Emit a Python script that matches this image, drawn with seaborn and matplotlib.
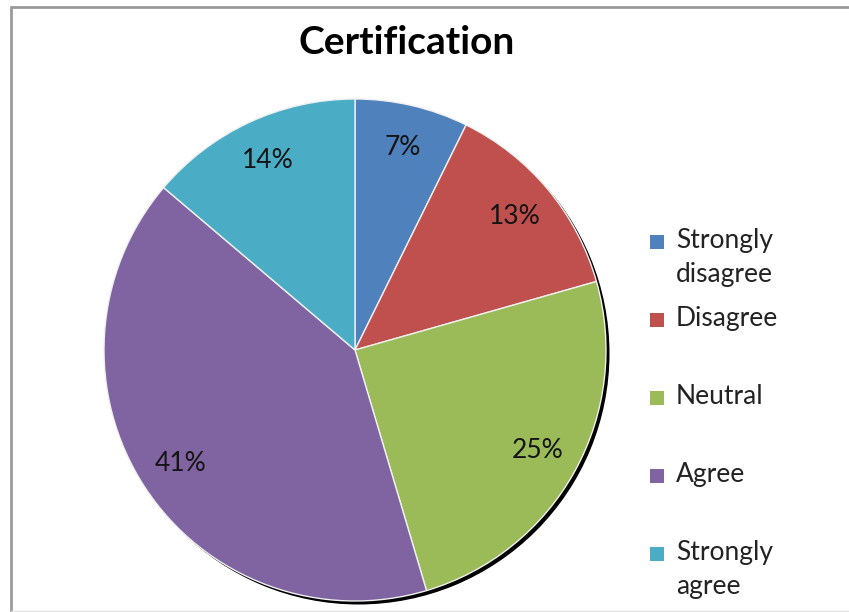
import matplotlib
matplotlib.use("Agg")
import matplotlib.pyplot as plt
import seaborn as sns
from matplotlib.lines import Line2D
from matplotlib.patches import Rectangle

sns.set_theme(style="white")
plt.rcParams['font.family'] = ['Lato', 'DejaVu Sans']

title = "Certification"
categories = ["Strongly disagree", "Disagree", "Neutral", "Agree", "Strongly agree"]
values = [7.3, 13.3, 24.8, 40.8, 13.8]
colors = ["#4F81BD", "#C0504D", "#9BBB59", "#8064A2", "#4BACC6"]

W, H = 849, 612
fig = plt.figure(figsize=(W / 100, H / 100), dpi=100)
fig.patch.set_facecolor("white")

cx, cy, R = 355, 350, 251
ax = fig.add_axes([(cx - R) / W, (H - cy - R) / H, 2 * R / W, 2 * R / H])
ax.set_xlim(-1, 1)
ax.set_ylim(-1, 1)
ax.set_aspect("equal")
ax.axis("off")

# shadow
off = 3.5 / R
ax.pie([1], colors=["black"], radius=1, center=(off, -off),
       wedgeprops=dict(linewidth=0), frame=False)

wedges, texts, autotexts = ax.pie(
    values, colors=colors, startangle=90, counterclock=False,
    autopct=lambda p: f"{p:.0f}%", pctdistance=0.83,
    wedgeprops=dict(edgecolor="#f0f0f0", linewidth=1.0),
    textprops=dict(fontsize=19, color="#141414"), frame=False)
ax.set_xlim(-1, 1)
ax.set_ylim(-1, 1)

fig.text(407 / W, 1 - 43 / H, title, ha="center", va="center",
         fontsize=28, fontweight="bold", color="black")

# legend
ys = [242, 320, 398, 476, 554]
for lab, col, y in zip(categories, colors, ys):
    fig.patches.append(Rectangle(((657 - 7) / W, 1 - (y + 7) / H), 14 / W, 14 / H,
                                 transform=fig.transFigure, facecolor=col,
                                 edgecolor="none"))
    fig.text(676 / W, 1 - (y - 14) / H, lab.replace(" ", "\n"), ha="left", va="top",
             fontsize=19, color="#222222", linespacing=1.45)

# frame
fig.add_artist(Line2D([11 / W, 11 / W], [0, 1 - 7 / H], transform=fig.transFigure,
                      color="#9a9a9a", linewidth=2))
fig.add_artist(Line2D([11 / W, 1], [1 - 7 / H, 1 - 7 / H], transform=fig.transFigure,
                      color="#9a9a9a", linewidth=2))
fig.add_artist(Line2D([11 / W, 1], [1 / H, 1 / H], transform=fig.transFigure,
                      color="#e0e0e0", linewidth=1))

fig.savefig("out.png", dpi=100, facecolor="white")
